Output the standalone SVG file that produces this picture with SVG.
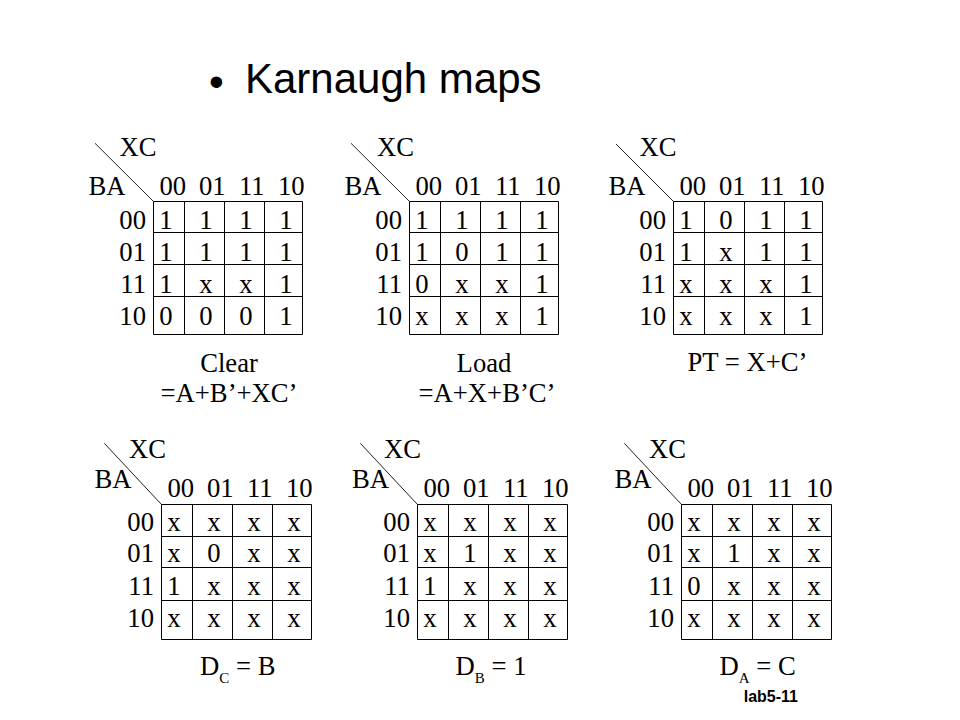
<svg xmlns="http://www.w3.org/2000/svg" xmlns:xlink="http://www.w3.org/1999/xlink" width="960" height="720" viewBox="0 0 960 720">
<style>
text{font-family:"Liberation Serif","Times New Roman",serif;font-size:26.67px;fill:#000}
.c{text-anchor:middle}
.r{text-anchor:end}
.t{font-family:"Liberation Sans",Arial,sans-serif;font-size:42px}
.lab{font-family:"Liberation Sans",Arial,sans-serif;font-size:16px;font-weight:bold;text-anchor:end}
.sub{font-size:15px}
.g{fill:none;stroke:#000;stroke-width:1}
.d{stroke:#222;stroke-width:1}
</style>
<defs>
<path id="gridTop" class="g" d="M153.5 201.5H302.5V334.5H153.5Z M153.5 232.5H302.5 M153.5 264.5H302.5 M153.5 296.5H302.5 M184.5 201.5V334.5 M224.5 201.5V334.5 M264.5 201.5V334.5"/>
<path id="gridBot" class="g" d="M161.5 504.5H311.5V639.5H161.5Z M161.5 536.5H311.5 M161.5 567.5H311.5 M161.5 600.5H311.5 M192.5 504.5V639.5 M232.5 504.5V639.5 M272.5 504.5V639.5"/>
</defs>
<rect width="960" height="720" fill="#fff"/>
<g id="title">
<text class="t" x="209" y="96">•</text>
<text class="t" x="245" y="93.3">Karnaugh maps</text>
</g>

<g id="map-clear">
<line class="d" x1="95" y1="143.3" x2="153.5" y2="201.5"/>
<use xlink:href="#gridTop" href="#gridTop"/>
<text x="119.5" y="156">XC</text>
<text x="88.5" y="195">BA</text>
<text class="c" x="172.8" y="195">00</text><text class="c" x="212.3" y="195">01</text><text class="c" x="251.8" y="195">11</text><text class="c" x="291.3" y="195">10</text>
<text class="r" x="146" y="229">00</text><text class="r" x="146" y="261">01</text><text class="r" x="146" y="292.5">11</text><text class="r" x="146" y="324.5">10</text>
<text class="c" x="166" y="229">1</text><text class="c" x="206" y="229">1</text><text class="c" x="246" y="229">1</text><text class="c" x="286" y="229">1</text>
<text class="c" x="166" y="261">1</text><text class="c" x="206" y="261">1</text><text class="c" x="246" y="261">1</text><text class="c" x="286" y="261">1</text>
<text class="c" x="166" y="292.5">1</text><text class="c" x="206" y="292.5">x</text><text class="c" x="246" y="292.5">x</text><text class="c" x="286" y="292.5">1</text>
<text class="c" x="166" y="324.5">0</text><text class="c" x="206" y="324.5">0</text><text class="c" x="246" y="324.5">0</text><text class="c" x="286" y="324.5">1</text>
<text class="c" x="229" y="372">Clear</text>
<text class="c" x="229" y="401.7">=A+B’+XC’</text>
</g>

<g id="map-load" transform="translate(256,0)">
<line class="d" x1="95" y1="143.3" x2="153.5" y2="201.5"/>
<use xlink:href="#gridTop" href="#gridTop"/>
<text x="121" y="156">XC</text>
<text x="88.5" y="195">BA</text>
<text class="c" x="172.8" y="195">00</text><text class="c" x="212.3" y="195">01</text><text class="c" x="251.8" y="195">11</text><text class="c" x="291.3" y="195">10</text>
<text class="r" x="146" y="229">00</text><text class="r" x="146" y="261">01</text><text class="r" x="146" y="292.5">11</text><text class="r" x="146" y="324.5">10</text>
<text class="c" x="166" y="229">1</text><text class="c" x="206" y="229">1</text><text class="c" x="246" y="229">1</text><text class="c" x="286" y="229">1</text>
<text class="c" x="166" y="261">1</text><text class="c" x="206" y="261">0</text><text class="c" x="246" y="261">1</text><text class="c" x="286" y="261">1</text>
<text class="c" x="166" y="292.5">0</text><text class="c" x="206" y="292.5">x</text><text class="c" x="246" y="292.5">x</text><text class="c" x="286" y="292.5">1</text>
<text class="c" x="166" y="324.5">x</text><text class="c" x="206" y="324.5">x</text><text class="c" x="246" y="324.5">x</text><text class="c" x="286" y="324.5">1</text>
<text class="c" x="228" y="372">Load</text>
<text class="c" x="231" y="401.7">=A+X+B’C’</text>
</g>

<g id="map-pt" transform="translate(520,0)">
<line class="d" x1="96" y1="144" x2="153.5" y2="201.5"/>
<use xlink:href="#gridTop" href="#gridTop"/>
<text x="119.5" y="156">XC</text>
<text x="88.5" y="195">BA</text>
<text class="c" x="172.8" y="195">00</text><text class="c" x="212.3" y="195">01</text><text class="c" x="251.8" y="195">11</text><text class="c" x="291.3" y="195">10</text>
<text class="r" x="146" y="229">00</text><text class="r" x="146" y="261">01</text><text class="r" x="146" y="292.5">11</text><text class="r" x="146" y="324.5">10</text>
<text class="c" x="166" y="229">1</text><text class="c" x="206" y="229">0</text><text class="c" x="246" y="229">1</text><text class="c" x="286" y="229">1</text>
<text class="c" x="166" y="261">1</text><text class="c" x="206" y="261">x</text><text class="c" x="246" y="261">1</text><text class="c" x="286" y="261">1</text>
<text class="c" x="166" y="292.5">x</text><text class="c" x="206" y="292.5">x</text><text class="c" x="246" y="292.5">x</text><text class="c" x="286" y="292.5">1</text>
<text class="c" x="166" y="324.5">x</text><text class="c" x="206" y="324.5">x</text><text class="c" x="246" y="324.5">x</text><text class="c" x="286" y="324.5">1</text>
<text class="c" x="227.5" y="371">PT = X+C’</text>
</g>

<g id="map-dc">
<line class="d" x1="104.3" y1="443.3" x2="161.5" y2="504.5"/>
<use xlink:href="#gridBot" href="#gridBot"/>
<text x="129" y="458.3">XC</text>
<text x="94.5" y="488">BA</text>
<text class="c" x="180.8" y="497">00</text><text class="c" x="220.3" y="497">01</text><text class="c" x="259.8" y="497">11</text><text class="c" x="299.3" y="497">10</text>
<text class="r" x="154" y="530.5">00</text><text class="r" x="154" y="562">01</text><text class="r" x="154" y="595">11</text><text class="r" x="154" y="627">10</text>
<text class="c" x="174" y="530.5">x</text><text class="c" x="214" y="530.5">x</text><text class="c" x="254" y="530.5">x</text><text class="c" x="294" y="530.5">x</text>
<text class="c" x="174" y="562">x</text><text class="c" x="214" y="562">0</text><text class="c" x="254" y="562">x</text><text class="c" x="294" y="562">x</text>
<text class="c" x="174" y="595">1</text><text class="c" x="214" y="595">x</text><text class="c" x="254" y="595">x</text><text class="c" x="294" y="595">x</text>
<text class="c" x="174" y="627">x</text><text class="c" x="214" y="627">x</text><text class="c" x="254" y="627">x</text><text class="c" x="294" y="627">x</text>
<text x="200" y="675">D<tspan class="sub" dy="8">C</tspan><tspan dy="-8"> = B</tspan></text>
</g>

<g id="map-db" transform="translate(256,0)">
<line class="d" x1="104.3" y1="443.3" x2="161.5" y2="504.5"/>
<use xlink:href="#gridBot" href="#gridBot"/>
<text x="128" y="458.3">XC</text>
<text x="96" y="488">BA</text>
<text class="c" x="180.8" y="497">00</text><text class="c" x="220.3" y="497">01</text><text class="c" x="259.8" y="497">11</text><text class="c" x="299.3" y="497">10</text>
<text class="r" x="154" y="530.5">00</text><text class="r" x="154" y="562">01</text><text class="r" x="154" y="595">11</text><text class="r" x="154" y="627">10</text>
<text class="c" x="174" y="530.5">x</text><text class="c" x="214" y="530.5">x</text><text class="c" x="254" y="530.5">x</text><text class="c" x="294" y="530.5">x</text>
<text class="c" x="174" y="562">x</text><text class="c" x="214" y="562">1</text><text class="c" x="254" y="562">x</text><text class="c" x="294" y="562">x</text>
<text class="c" x="174" y="595">1</text><text class="c" x="214" y="595">x</text><text class="c" x="254" y="595">x</text><text class="c" x="294" y="595">x</text>
<text class="c" x="174" y="627">x</text><text class="c" x="214" y="627">x</text><text class="c" x="254" y="627">x</text><text class="c" x="294" y="627">x</text>
<text x="199.5" y="675">D<tspan class="sub" dy="8">B</tspan><tspan dy="-8"> = 1</tspan></text>
</g>

<g id="map-da" transform="translate(520,0)">
<line class="d" x1="104.3" y1="443.3" x2="161.5" y2="504.5"/>
<use xlink:href="#gridBot" href="#gridBot"/>
<text x="129" y="458.3">XC</text>
<text x="94.5" y="488">BA</text>
<text class="c" x="180.8" y="497">00</text><text class="c" x="220.3" y="497">01</text><text class="c" x="259.8" y="497">11</text><text class="c" x="299.3" y="497">10</text>
<text class="r" x="154" y="530.5">00</text><text class="r" x="154" y="562">01</text><text class="r" x="154" y="595">11</text><text class="r" x="154" y="627">10</text>
<text class="c" x="174" y="530.5">x</text><text class="c" x="214" y="530.5">x</text><text class="c" x="254" y="530.5">x</text><text class="c" x="294" y="530.5">x</text>
<text class="c" x="174" y="562">x</text><text class="c" x="214" y="562">1</text><text class="c" x="254" y="562">x</text><text class="c" x="294" y="562">x</text>
<text class="c" x="174" y="595">0</text><text class="c" x="214" y="595">x</text><text class="c" x="254" y="595">x</text><text class="c" x="294" y="595">x</text>
<text class="c" x="174" y="627">x</text><text class="c" x="214" y="627">x</text><text class="c" x="254" y="627">x</text><text class="c" x="294" y="627">x</text>
<text x="199.5" y="675">D<tspan class="sub" dy="8">A</tspan><tspan dy="-8"> = C</tspan></text>
</g>

<g id="connectors"></g>
<text class="lab" x="798" y="702">lab5-11</text>
</svg>
